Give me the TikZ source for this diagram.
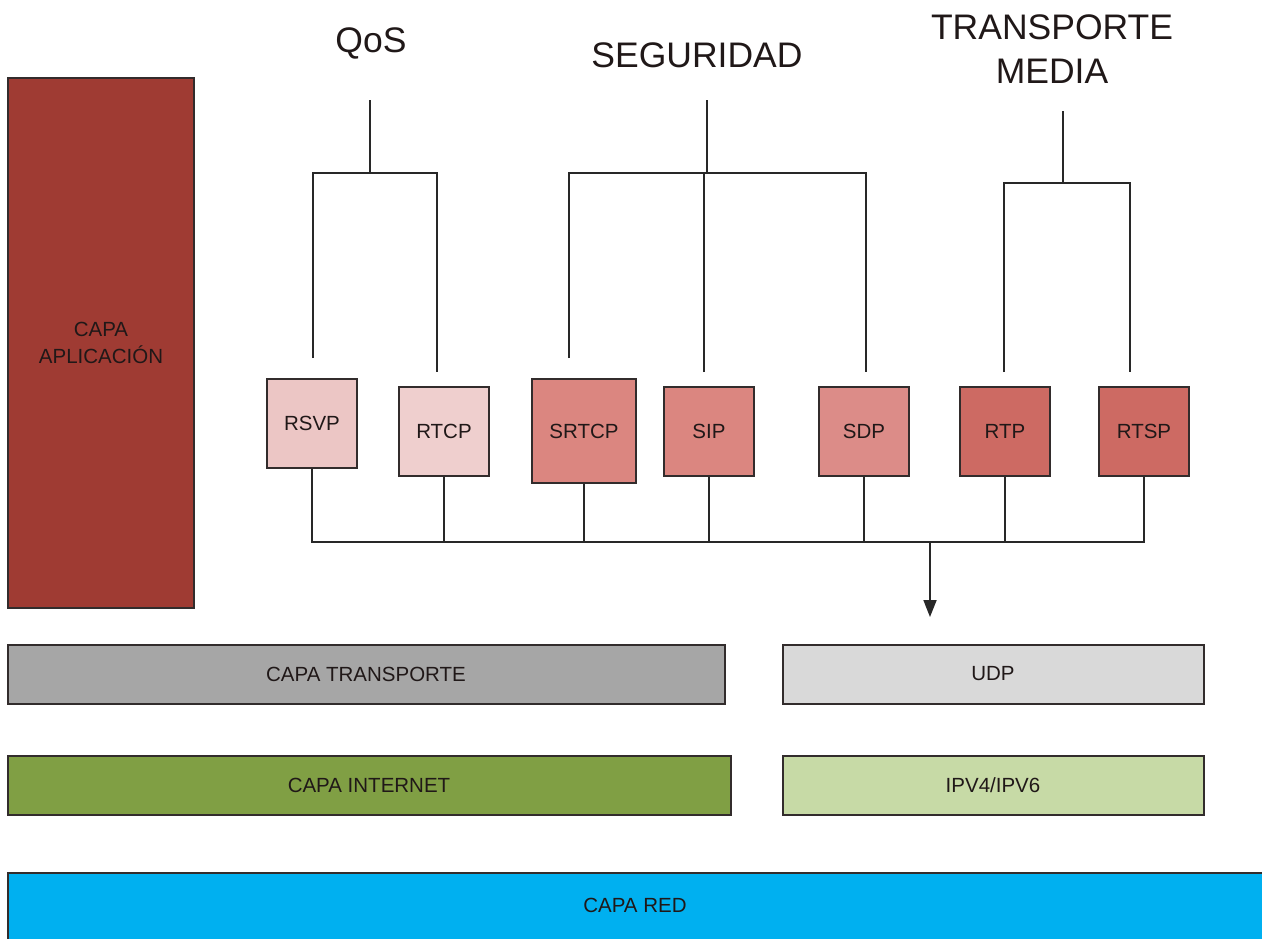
\documentclass[tikz,border=0pt]{standalone}
\usepackage{fontspec}
\setmainfont{Liberation Sans}
\usetikzlibrary{arrows.meta}

\definecolor{txt}{RGB}{32,24,24}
\definecolor{boxline}{RGB}{50,44,44}
\definecolor{wirecol}{RGB}{40,40,40}
\definecolor{appred}{RGB}{159,59,51}
\definecolor{pinklight}{RGB}{236,198,197}
\definecolor{pinkmid}{RGB}{219,134,128}
\definecolor{pinksdp}{RGB}{220,140,136}
\definecolor{reddeep}{RGB}{205,106,99}
\definecolor{graydark}{RGB}{166,166,166}
\definecolor{graylight}{RGB}{217,217,217}
\definecolor{olive}{RGB}{128,159,68}
\definecolor{olivelight}{RGB}{199,218,166}
\definecolor{skyblue}{RGB}{0,176,240}

\newcommand\lblfont{\fontsize{20.5}{27}\selectfont}
\newcommand\ttlfont{\fontsize{35.5}{44}\selectfont}

\begin{document}
\begin{tikzpicture}[x=1pt,y=-1pt,
  box/.style={draw=boxline, line width=2pt, inner sep=0pt, font=\lblfont, text=txt, align=center},
  proto/.style={box, minimum width=90pt, minimum height=89pt},
  layer/.style={box, minimum height=59pt},
  title/.style={font=\ttlfont, text=txt, align=center, inner sep=0pt},
  wire/.style={draw=wirecol, line width=1.8pt},
  tip/.style={wire, -{Triangle[width=13pt,length=17pt]}}
]
\fill[white] (0,0) rectangle (1262,938);
\clip (0,0) rectangle (1262,938);

% application layer column
\node[box, fill=appred, minimum width=186pt, minimum height=530pt] (app) at (101,343) {CAPA\\APLICACIÓN};

% protocol boxes
\node[proto, fill=pinklight] (rsvp) at (312,423) {RSVP};
\node[proto, fill=pinklight!85!white] (rtcp) at (444,431) {RTCP};
\node[proto, fill=pinkmid, minimum width=104pt, minimum height=104pt] (srtcp) at (584,431) {SRTCP};
\node[proto, fill=pinkmid] (sip) at (709,431) {SIP};
\node[proto, fill=pinksdp] (sdp) at (864,431) {SDP};
\node[proto, fill=reddeep] (rtp) at (1005,431) {RTP};
\node[proto, fill=reddeep] (rtsp) at (1144,431) {RTSP};

% group titles
\node[title] (qos) at (371,43) {QoS};
\node[title] (seg) at (697,55) {SEGURIDAD};
\node[title] (tm) at (1052,49) {TRANSPORTE\\MEDIA};

% QoS tree
\coordinate (qosTop) at (370,100);
\coordinate (qosJoin) at (370,173);
\coordinate (qosL) at (313,358);
\coordinate (qosR) at (437,372);
\draw[wire] (qosTop) -- (qosJoin);
\draw[wire] (qosL) |- (qosJoin) -| (qosR);

% security tree
\coordinate (segTop) at (707,100);
\coordinate (segJoin) at (707,173);
\coordinate (segL) at (569,358);
\coordinate (segM) at (704,372);
\coordinate (segR) at (866,372);
\draw[wire] (segTop) -- (segJoin);
\draw[wire] (segL) |- (segJoin) -| (segR);
\draw[wire] (segM) -- (segM |- segJoin);

% media transport tree
\coordinate (tmTop) at (1063,111);
\coordinate (tmJoin) at (1063,183);
\coordinate (tmL) at (1004,372);
\coordinate (tmR) at (1130,372);
\draw[wire] (tmTop) -- (tmJoin);
\draw[wire] (tmL) |- (tmJoin) -| (tmR);

% common bus down to the transport layer
\coordinate (busY) at (0,542);
\draw[wire] (rsvp.south) -- (rsvp.south |- busY) -- (rtsp.south |- busY) -- (rtsp.south);
\foreach \n in {rtcp,srtcp,sip,sdp,rtp}
  \draw[wire] (\n.south) -- (\n.south |- busY);
\coordinate (arrowFrom) at (930,542);
\coordinate (arrowTo) at (930,617);
\draw[tip] (arrowFrom) -- (arrowTo);

% lower layers
\node[layer, fill=graydark, minimum width=717pt] (trans) at (366,674) {CAPA TRANSPORTE};
\node[layer, fill=graylight, minimum width=421pt] (udp) at (993,674) {UDP};
\node[layer, fill=olive, minimum width=723pt] (inet) at (369,785) {CAPA INTERNET};
\node[layer, fill=olivelight, minimum width=421pt] (ip) at (993,785) {IPV4/IPV6};
\node[box, fill=skyblue, minimum width=1262pt, minimum height=72pt] (red) at (639,909) {};
\node[font=\lblfont, text=txt, inner sep=0pt] (redlabel) at (635,905) {CAPA RED};
\end{tikzpicture}
\end{document}
